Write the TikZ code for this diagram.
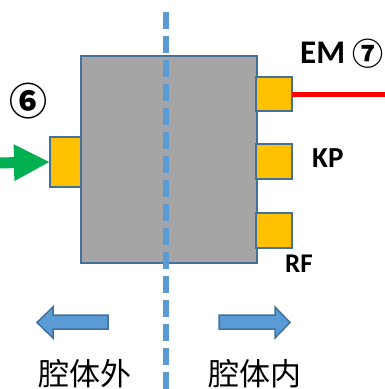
\documentclass[tikz,border=0pt]{standalone}
\usepackage{fontspec}
\setmainfont{Carlito}
\newfontfamily\cjk{Noto Sans CJK SC}
\usetikzlibrary{arrows.meta}
\definecolor{boxgray}{HTML}{A5A5A5}
\definecolor{edgeblue}{HTML}{41719C}
\definecolor{portyellow}{HTML}{FFC000}
\definecolor{arrowgreen}{HTML}{00B050}
\definecolor{dashblue}{HTML}{5B9BD5}
\begin{document}
\begin{tikzpicture}[x=1pt,y=-1pt,
  mainbox/.style={draw=edgeblue,fill=boxgray,line width=2pt,inner sep=0pt,outer sep=0pt,minimum width=176pt,minimum height=207pt},
  portbox/.style={draw=edgeblue,fill=portyellow,line width=2pt,inner sep=0pt,outer sep=0pt},
  lbl/.style={font=\bfseries,inner sep=0pt,anchor=base west},
  cnlbl/.style={font=\cjk\fontsize{31}{31}\selectfont,inner sep=0pt,anchor=base west},
  blockarrow/.style={draw=edgeblue,fill=dashblue,line width=1.5pt,line join=miter}]
\useasboundingbox (0,0) rectangle (384,389);
% main box
\node[mainbox] (box) at (169,159.5) {};
% dashed separator
\coordinate (dtop) at (166,12);
\coordinate (dbot) at (166,395);
\draw[dashblue,line width=5.5pt,dash pattern=on 17pt off 7pt] (dtop) -- (dbot);
% ports
\node[portbox,minimum width=31pt,minimum height=50pt] (p6) at (65.5,162) {};
\node[portbox,minimum width=36pt,minimum height=34pt] (pem) at (274,94) {};
\node[portbox,minimum width=36pt,minimum height=35pt] (pkp) at (274,161.5) {};
\node[portbox,minimum width=36pt,minimum height=35pt] (prf) at (274,230.5) {};
% green input arrow
\coordinate (gstart) at (-4,163);
\draw[arrowgreen,line width=11pt,-{Triangle[length=36pt,width=34pt]}] (gstart) -- (p6.west);
% red output line
\coordinate (rend) at (390,94);
\draw[red,line width=5pt] (pem.east) -- (rend);
% labels
\node[lbl,font=\bfseries\fontsize{33}{33}\selectfont] (em) at (300,63) {EM};
\node[font=\cjk\bfseries\fontsize{31}{31}\selectfont,inner sep=0pt] (n7) at (367.5,53.5) {⑦};
\node[font=\cjk\bfseries\fontsize{38}{38}\selectfont,inner sep=0pt] (n6) at (28.5,101.5) {⑥};
\node[lbl,font=\bfseries\fontsize{29}{29}\selectfont] (kp) at (312,167) {KP};
\node[lbl,font=\bfseries\fontsize{27}{27}\selectfont] (rf) at (285,272) {RF};
% block arrows
\draw[blockarrow] (108,315) -- (53,315) -- (53,307) -- (37,322.5) -- (53,338) -- (53,329) -- (108,329) -- cycle;
\draw[blockarrow] (219,315) -- (275,315) -- (275,307) -- (290,322.5) -- (275,338) -- (275,329) -- (219,329) -- cycle;
% bottom labels
\node[cnlbl] (out) at (38,385) {腔体外};
\node[cnlbl] (in) at (208,385) {腔体内};
\end{tikzpicture}
\end{document}
